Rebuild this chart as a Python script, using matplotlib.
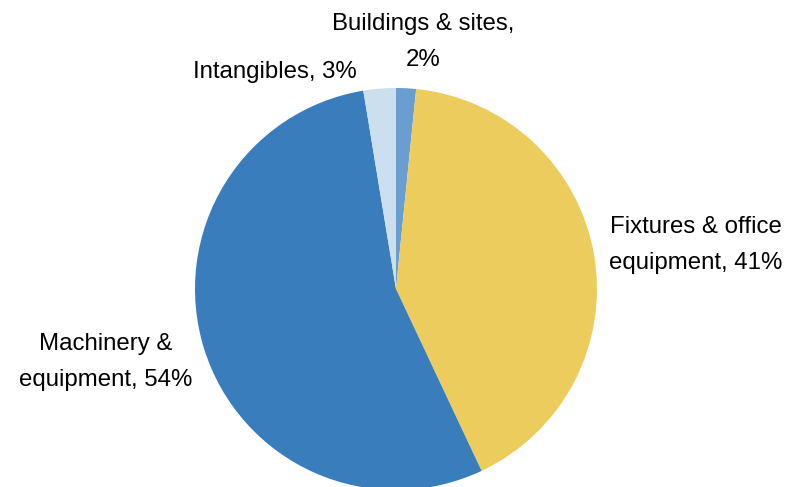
import matplotlib
matplotlib.use("Agg")
import matplotlib.pyplot as plt

plt.rcParams['font.family'] = ['Liberation Sans', 'DejaVu Sans']

categories = ["Buildings & sites", "Fixtures & office equipment",
              "Machinery & equipment", "Intangibles"]
shares = [1.6, 41.4, 54.4, 2.6]
colors = ["#6A9ED0", "#EDCC5E", "#3A7DBD", "#CCDFEE"]
label_texts = ["Buildings & sites,\n2%", "Fixtures & office\nequipment, 41%",
               "Machinery &\nequipment, 54%", "Intangibles, 3%"]

W, H = 799, 487
cx, cy, r = 396, 289, 201

fig = plt.figure(figsize=(W / 100, H / 100), dpi=100)
ax = fig.add_axes([0, 0, 1, 1])
ax.pie(shares, colors=colors, startangle=90, counterclock=False,
       radius=1.0, wedgeprops=dict(linewidth=0))
ax.set_xlim(-cx / r, (W - cx) / r)
ax.set_ylim(-(H - cy) / r, cy / r)
ax.set_aspect('equal', adjustable='box')
ax.axis('off')

# label anchor points in pixel space
label_px = [(423, 42), (696, 245), (106, 362), (275, 72)]
for txt, (px, py) in zip(label_texts, label_px):
    ax.text((px - cx) / r, (cy - py) / r, txt, ha='center', va='center',
            fontsize=17.3, linespacing=1.78, color='#000000')

fig.savefig("out.png", dpi=100, facecolor='white')
